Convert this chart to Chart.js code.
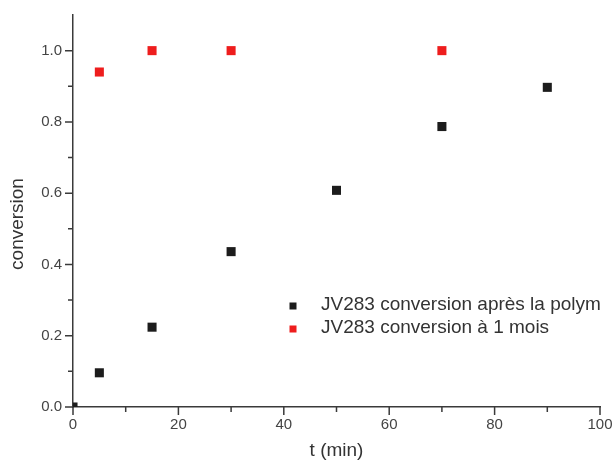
<!DOCTYPE html>
<html>
<head>
<meta charset="utf-8">
<script src="https://cdn.jsdelivr.net/npm/chart.js@4"></script>
<style>
html,body{margin:0;padding:0;background:#fff;}
#wrap{width:614px;height:465px;}
</style>
</head>
<body>
<div id="wrap"><canvas id="c" width="614" height="465"></canvas></div>
<script>
// données
const tempsPolym=[0,5,15,30,50,70,90];
const convPolym=[0,0.096,0.224,0.436,0.608,0.787,0.897];
const temps1Mois=[5,15,30,70];
const conv1Mois=[0.94,1.0,1.0,1.0];
const labelPolym="JV283 conversion après la polym";
const label1Mois="JV283 conversion à 1 mois";
const titreX="t (min)";
const titreY="conversion";
const ticksX=[0,20,40,60,80,100];
const minorX=[10,30,50,70,90];
const ticksY=[0,0.2,0.4,0.6,0.8,1.0];
const minorY=[0.1,0.3,0.5,0.7,0.9];

const axisColor="#3a3a3a";
const textColor="#444";
const FONT="'Liberation Sans', Arial, sans-serif";

const pts=(xs,ys)=>xs.map((x,i)=>({x:x,y:ys[i]}));

// petits traits des axes, titre Y et légende dans la zone
const decor={
id:"decor",
afterDraw(chart){
const ctx=chart.ctx;
const sx=chart.scales.x, sy=chart.scales.y;
const x0=sx.left, y0=sy.bottom;
ctx.save();
ctx.strokeStyle=axisColor;
ctx.lineWidth=1.5;
ctx.beginPath();
ticksY.forEach(v=>{let p=sy.getPixelForValue(v);ctx.moveTo(x0-8,p);ctx.lineTo(x0,p);});
minorY.forEach(v=>{let p=sy.getPixelForValue(v);ctx.moveTo(x0-5,p);ctx.lineTo(x0,p);});
ticksX.forEach(v=>{let p=sx.getPixelForValue(v);ctx.moveTo(p,y0);ctx.lineTo(p,y0+8);});
minorX.forEach(v=>{let p=sx.getPixelForValue(v);ctx.moveTo(p,y0);ctx.lineTo(p,y0+5);});
ctx.stroke();

// titre Y (un peu plus bas que le centre, comme l'original)
ctx.save();
ctx.translate(18,224);
ctx.rotate(-Math.PI/2);
ctx.font="19px "+FONT;
ctx.fillStyle="#333";
ctx.textAlign="center";
ctx.textBaseline="middle";
ctx.fillText(titreY,0,0);
ctx.restore();

// légende
const lx=293, ly=305, gap=23;
ctx.font="19px "+FONT;
ctx.textBaseline="middle";
ctx.textAlign="left";
chart.data.datasets.forEach((d,i)=>{
let y=ly+i*gap;
ctx.fillStyle=d.backgroundColor;
ctx.fillRect(lx-3.5,y+1-3.5,7,7);
ctx.fillStyle="#333";
ctx.fillText(d.label,321,y);
});
ctx.restore();
}
};

new Chart(document.getElementById("c"),{
type:"scatter",
data:{
datasets:[{
label:labelPolym,
data:pts(tempsPolym,convPolym),
backgroundColor:"#1c1c1c",
borderWidth:0,
pointStyle:"rect",
pointRadius:6.4,
pointHoverRadius:6.4,
clip:0
},{
label:label1Mois,
data:pts(temps1Mois,conv1Mois),
backgroundColor:"#ee1d1d",
borderWidth:0,
pointStyle:"rect",
pointRadius:6.4,
pointHoverRadius:6.4,
clip:0
}]
},
options:{
responsive:false,
animation:false,
events:[],
layout:{padding:{top:15,right:14,left:0,bottom:0}},
plugins:{legend:{display:false},tooltip:{enabled:false}},
scales:{
x:{
type:"linear",
min:0,max:100,
grid:{display:false,drawTicks:false},
border:{display:true,color:axisColor,width:1.5},
ticks:{
stepSize:20,
padding:9,
color:textColor,
font:{family:FONT,size:15},
maxRotation:0,
callback:v=>ticksX.includes(v)?String(v):""
},
title:{display:true,text:titreX,color:"#333",font:{family:FONT,size:19},padding:{top:0,bottom:3}},
afterFit(s){s.height=58;s.paddingLeft=0;s.paddingRight=0;}
},
y:{
type:"linear",
min:0,max:1.1,
grid:{display:false,drawTicks:false},
border:{display:true,color:axisColor,width:1.5},
ticks:{
stepSize:0.2,
padding:11,
color:textColor,
font:{family:FONT,size:15},
callback:v=>{let k=Math.round(v*10);return (k%2===0&&k<=10)?(k/10).toFixed(1):"";}
},
title:{display:false},
afterFit(s){s.width=73;s.paddingTop=0;s.paddingBottom=0;}
}
}
},
plugins:[decor]
});
</script>
</body>
</html>
